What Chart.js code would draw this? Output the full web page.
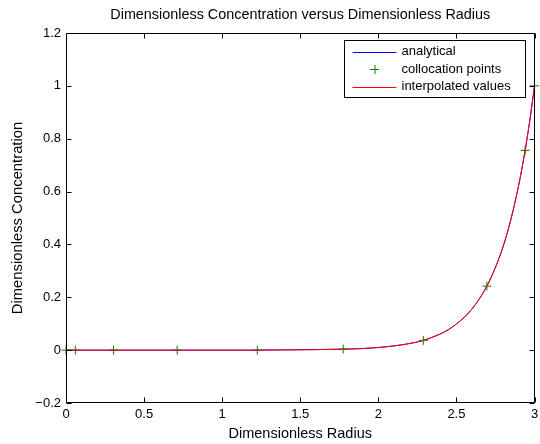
<!DOCTYPE html>
<html lang="en">

<head>
    <meta charset="UTF-8">
    <script src="https://cdn.jsdelivr.net/npm/chart.js"></script>
    <title>Dimensionless Concentration</title>
    <style>
        body { margin: 0; background: white; }
        #box { width: 540px; height: 444px; }
    </style>
</head>

<body>
    <div id="box">
        <canvas id="myChart" width="540" height="444"></canvas>
    </div>
</body>

</html>
<script>

    // valores
    const raio = [0, 0.25, 0.5, 0.75, 1.0, 1.2, 1.4, 1.6, 1.8, 1.9, 2.0, 2.1, 2.2, 2.25, 2.3, 2.35, 2.4, 2.45,
        2.5, 2.55, 2.6, 2.65, 2.7, 2.75, 2.8, 2.85, 2.9, 2.925, 2.95, 2.975, 3.0];
    const analitico = [0, 0, 0, 0, 0, 0, 0.001, 0.002, 0.004, 0.006, 0.010, 0.016, 0.025, 0.031, 0.039, 0.050, 0.062, 0.078,
        0.099, 0.124, 0.156, 0.197, 0.248, 0.313, 0.394, 0.497, 0.628, 0.705, 0.792, 0.890, 1.0];
    const interpolado = [0, 0, 0, 0, 0, 0, 0.001, 0.002, 0.004, 0.006, 0.010, 0.016, 0.025, 0.031, 0.039, 0.050, 0.062, 0.078,
        0.099, 0.124, 0.156, 0.197, 0.248, 0.313, 0.394, 0.497, 0.628, 0.705, 0.792, 0.890, 1.0];

    const colocacaoX = [0, 0.06, 0.305, 0.712, 1.225, 1.775, 2.288, 2.695, 2.94, 3.0];
    const colocacaoY = [0, 0, 0, 0, 0, 0.004, 0.037, 0.242, 0.756, 1.0];

    const ticksX = [0, 0.5, 1, 1.5, 2, 2.5, 3];
    const ticksY = [-0.2, 0, 0.2, 0.4, 0.6, 0.8, 1, 1.2];

    const fonte = 'Liberation Sans, Arial, Helvetica, sans-serif';

    function pontos(xs, ys) {
        return xs.map(function (x, i) { return { x: x, y: ys[i] }; });
    }

    function formatar(v) {
        return String(+v.toFixed(1)).replace('-', '\u2212');
    }

    // ticks para dentro nos quatro lados + caixa + legenda
    const molduraPlugin = {
        id: 'moldura',
        afterDraw(chart) {
            const ctx = chart.ctx;
            const a = chart.chartArea;
            const sx = chart.scales.x;
            const sy = chart.scales.y;
            const L = Math.round(a.left) + 0.5, R = Math.round(a.right) - 0.5;
            const T = Math.round(a.top) + 0.5, B = Math.round(a.bottom) - 0.5;
            ctx.save();
            ctx.strokeStyle = 'black';
            ctx.lineWidth = 1;
            ctx.beginPath();
            ctx.rect(L, T, R - L, B - T);
            ticksX.forEach(function (v) {
                const px = Math.round(sx.getPixelForValue(v)) + 0.5;
                ctx.moveTo(px, B); ctx.lineTo(px, B - 5);
                ctx.moveTo(px, T); ctx.lineTo(px, T + 5);
            });
            ticksY.forEach(function (v) {
                const py = Math.round(sy.getPixelForValue(v)) + 0.5;
                ctx.moveTo(L, py); ctx.lineTo(L + 5, py);
                ctx.moveTo(R, py); ctx.lineTo(R - 5, py);
            });
            ctx.stroke();

            // legenda
            const lw = 181, lh = 57;
            const lx = Math.round(a.right) - 10 - lw + 0.5;
            const ly = Math.round(a.top) + 7 + 0.5;
            ctx.fillStyle = 'white';
            ctx.fillRect(lx, ly, lw, lh);
            ctx.strokeRect(lx, ly, lw, lh);

            const itens = chart.data.datasets.slice().sort(function (d1, d2) { return d1.legenda - d2.legenda; });
            ctx.font = '13px ' + fonte;
            ctx.textBaseline = 'middle';
            ctx.textAlign = 'left';
            itens.forEach(function (ds, i) {
                const y = ly + 11 + i * 17.5;
                if (ds.showLine === false) {
                    const cx = lx + 30;
                    ctx.strokeStyle = ds.borderColor;
                    ctx.beginPath();
                    ctx.moveTo(cx - 4.5, Math.round(y) + 0.5); ctx.lineTo(cx + 4.5, Math.round(y) + 0.5);
                    ctx.moveTo(cx + 0.5, Math.round(y) - 4); ctx.lineTo(cx + 0.5, Math.round(y) + 5);
                    ctx.stroke();
                } else {
                    ctx.strokeStyle = ds.borderColor;
                    ctx.beginPath();
                    ctx.moveTo(lx + 8, Math.round(y) + 0.5);
                    ctx.lineTo(lx + 52, Math.round(y) + 0.5);
                    ctx.stroke();
                }
                ctx.fillStyle = 'black';
                ctx.fillText(ds.label, lx + 57, y);
            });
            ctx.restore();
        }
    };

    const config = {
        type: 'line',
        data: {
            datasets: [
                {
                    label: 'interpolated values',
                    legenda: 2,
                    order: 0,
                    data: pontos(raio, interpolado),
                    borderColor: '#ff0000',
                    borderWidth: 1,
                    pointRadius: 0,
                    fill: false,
                    cubicInterpolationMode: 'monotone'
                },
                {
                    label: 'collocation points',
                    legenda: 1,
                    order: 1,
                    data: pontos(colocacaoX, colocacaoY),
                    showLine: false,
                    clip: false,
                    borderColor: '#008000',
                    backgroundColor: '#008000',
                    pointStyle: 'cross',
                    pointRadius: 4.5,
                    pointBorderWidth: 1
                },
                {
                    label: 'analytical',
                    legenda: 0,
                    order: 2,
                    data: pontos(raio, analitico),
                    borderColor: '#0000ff',
                    borderWidth: 1,
                    pointRadius: 0,
                    fill: false,
                    cubicInterpolationMode: 'monotone'
                }
            ]
        },
        options: {
            responsive: false,
            animation: false,
            events: [],
            layout: { padding: { right: 4, left: 0, bottom: 0, top: 0 } },
            plugins: {
                legend: { display: false },
                tooltip: { enabled: false }
            },
            scales: {
                x: {
                    type: 'linear',
                    min: 0,
                    max: 3,
                    afterBuildTicks: function (s) { s.ticks = ticksX.map(function (v) { return { value: v }; }); },
                    afterFit: function (s) { s.height = 41; s.paddingLeft = 0; s.paddingRight = 0; },
                    grid: { display: false, drawTicks: false },
                    border: { display: false },
                    ticks: {
                        color: 'black',
                        padding: 4,
                        maxRotation: 0,
                        autoSkip: false,
                        font: { size: 13, family: fonte },
                        callback: function (v) { return formatar(v); }
                    },
                    title: {
                        display: true,
                        text: 'Dimensionless Radius',
                        color: 'black',
                        font: { size: 14.5, family: fonte },
                        padding: { top: 0, bottom: 1 }
                    }
                },
                // eixo de cima so para o titulo, centrado sobre a area do grafico
                topo: {
                    type: 'linear',
                    position: 'top',
                    min: 0,
                    max: 3,
                    afterFit: function (s) { s.height = 33; s.paddingLeft = 0; s.paddingRight = 0; },
                    grid: { display: false, drawTicks: false },
                    border: { display: false },
                    ticks: { display: false },
                    title: {
                        display: true,
                        text: 'Dimensionless Concentration versus Dimensionless Radius',
                        color: 'black',
                        font: { size: 14.4, family: fonte, lineHeight: 1.2 },
                        padding: { top: 6, bottom: 0 }
                    }
                },
                y: {
                    type: 'linear',
                    min: -0.2,
                    max: 1.2,
                    afterBuildTicks: function (s) { s.ticks = ticksY.map(function (v) { return { value: v }; }); },
                    afterFit: function (s) { s.width = 66; },
                    grid: { display: false, drawTicks: false },
                    border: { display: false },
                    ticks: {
                        color: 'black',
                        padding: 5,
                        autoSkip: false,
                        font: { size: 13, family: fonte },
                        callback: function (v) { return formatar(v); }
                    },
                    title: {
                        display: true,
                        text: 'Dimensionless Concentration',
                        color: 'black',
                        font: { size: 14.8, family: fonte },
                        padding: { top: 9, bottom: 0 }
                    }
                }
            }
        },
        plugins: [molduraPlugin]
    };

    let myChart = new Chart(document.getElementById('myChart'), config);

</script>
